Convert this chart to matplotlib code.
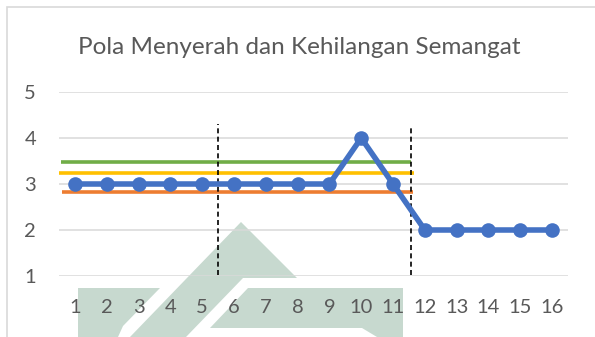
import numpy as np
import matplotlib.pyplot as plt
from matplotlib.patches import Polygon, Rectangle

# sessions and observed scores
sessions = list(range(1, 17))
scores = [3, 3, 3, 3, 3, 3, 3, 3, 3, 4, 3, 2, 2, 2, 2, 2]

# reference levels drawn across the first phases
levels = [3.48, 3.23, 2.83]
level_colors = ["#70AD47", "#FFC000", "#ED7D31"]
level_spans = [(0.55, 11.55), (0.5, 11.65), (0.58, 11.63)]

# phase change markers
phase_x = [5.5, 11.55]
phase_top = [4.30, 4.26]

title = "Pola Menyerah dan Kehilangan Semangat"

W, H = 595, 337
plt.rcParams["font.family"] = ["Lato", "DejaVu Sans"]
fig = plt.figure(figsize=(W / 100, H / 100), dpi=100)


def px(x, y):
    return (x / W, 1 - y / H)


# faint logo shapes in the background (pixel coordinates)
logo = [
    [(241, 222), (297, 278), (243, 278), (186, 337), (130, 337)],
    [(78, 288), (160, 288), (123, 326), (118, 337), (78, 337)],
    [(248, 288), (403, 288), (403, 337), (377, 337), (362, 328), (210, 328)],
]
for shape in logo:
    fig.patches.append(Polygon([px(*p) for p in shape], closed=True,
                               transform=fig.transFigure, facecolor="#c7d9cf",
                               edgecolor="none", zorder=-2))

# outer chart border
fig.patches.append(Rectangle(px(7, 400), 700 / W, 393 / H, transform=fig.transFigure,
                             facecolor="none", edgecolor="#d9d9d9", lw=1.2, zorder=-1))

ax = fig.add_axes([59 / W, 1 - 276 / H, 509 / W, 184 / H])
ax.set_facecolor("none")

for v, c, (x0, x1) in zip(levels, level_colors, level_spans):
    ax.plot([x0, x1], [v, v], color=c, lw=2.6, solid_capstyle="butt", zorder=3)

for x, top in zip(phase_x, phase_top):
    ax.plot([x, x], [1.03, top], color="black", lw=1.2, ls=(0, (3, 2)), zorder=4)

ax.plot(sessions, scores, color="#4472C4", lw=4, marker="o", markersize=10.5,
        markeredgewidth=0, zorder=5)

ax.set_xlim(0.5, 16.5)
ax.set_ylim(1, 5)
ax.set_xticks(sessions)
ax.set_yticks([1, 2, 3, 4, 5])
ax.grid(axis="y", color="#d9d9d9", lw=1.1)
ax.set_axisbelow(True)
ax.tick_params(length=0, labelsize=14.5, labelcolor="#595959")
ax.tick_params(axis="x", pad=16.5)
ax.tick_params(axis="y", pad=16.5)
for s in ax.spines.values():
    s.set_visible(False)

fig.text(299.5 / W, 1 - 47 / H, title, ha="center", va="center",
         fontsize=17.5, color="#595959")

fig.savefig("out.png", dpi=100)
